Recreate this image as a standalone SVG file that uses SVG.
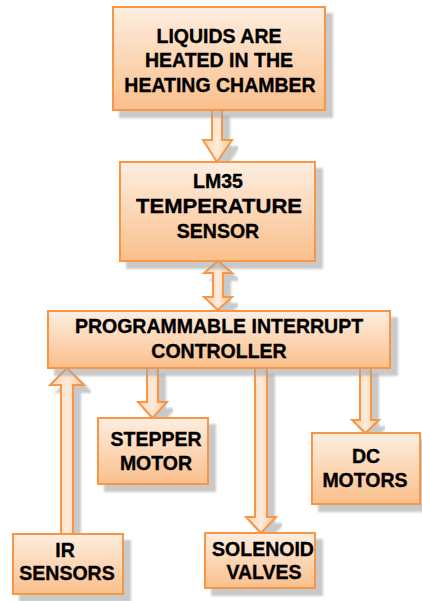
<svg xmlns="http://www.w3.org/2000/svg" width="422" height="601" viewBox="0 0 422 601">
<defs>
<linearGradient id="g" x1="0" y1="0" x2="0" y2="1">
<stop offset="0" stop-color="#fdeee0"/>
<stop offset="1" stop-color="#fabf8b"/>
</linearGradient>
<linearGradient id="ga" x1="0" y1="0" x2="1" y2="0">
<stop offset="0" stop-color="#fcd3ac"/>
<stop offset="0.5" stop-color="#fdebdb"/>
<stop offset="1" stop-color="#fbc794"/>
</linearGradient>
<filter id="sh" x="-10%" y="-10%" width="130%" height="130%">
<feDropShadow dx="7" dy="7" stdDeviation="1.2" flood-color="#a6a6a6" flood-opacity="0.6"/>
</filter>
</defs>
<style>
.box{fill:url(#g);stroke:#f79646;stroke-width:2;filter:url(#sh)}
.arr{fill:url(#ga);stroke:#f79646;stroke-width:2;stroke-linejoin:miter;filter:url(#sh)}
text{font-family:"Liberation Sans",Arial,sans-serif;font-weight:bold;font-size:19.5px;fill:#000;stroke:#000;stroke-width:0.35;text-anchor:middle}
</style>
<g id="connectors">
<path class="arr" d="M212,110 H222 V140 H232 L217,162 L203,140 H212 Z"/>
<path class="arr" d="M218,261 L232,273 H223 V297 H232 L218,310 L204,297 H213 V273 H204 Z"/>
<path class="arr" d="M67,368 L84,385 H73 V534 H61 V385 H50 Z"/>
<path class="arr" d="M147,368 H158 V402 H167 L152.5,418 L138,402 H147 Z"/>
<path class="arr" d="M255,368 H267 V517 H276 L261,533 L246,517 H255 Z"/>
<path class="arr" d="M360,368 H371 V420 H379 L365.5,433 L352,420 H360 Z"/>
</g>
<g id="n1">
<rect class="box" x="113" y="7" width="212" height="103"/>
<text x="219" y="43">LIQUIDS ARE</text>
<text x="219" y="67">HEATED IN THE</text>
<text x="220" y="92">HEATING CHAMBER</text>
</g>
<g id="n2">
<rect class="box" x="120" y="162" width="195" height="99"/>
<text x="218" y="188">LM35</text>
<text x="219" y="213" textLength="166" lengthAdjust="spacingAndGlyphs">TEMPERATURE</text>
<text x="218" y="238">SENSOR</text>
</g>
<g id="n3">
<rect class="box" x="48" y="311" width="342" height="57"/>
<text x="219" y="333">PROGRAMMABLE INTERRUPT</text>
<text x="219" y="358">CONTROLLER</text>
</g>
<g id="n4">
<rect class="box" x="98" y="418" width="110" height="66"/>
<text x="156" y="446">STEPPER</text>
<text x="156" y="470">MOTOR</text>
</g>
<g id="n5">
<rect class="box" x="312" y="433" width="108" height="71"/>
<text x="366" y="463">DC</text>
<text x="365" y="487">MOTORS</text>
</g>
<g id="n6">
<rect class="box" x="13" y="534" width="110" height="60"/>
<text x="65" y="557">IR</text>
<text x="67" y="580">SENSORS</text>
</g>
<g id="n7">
<rect class="box" x="205" y="533" width="110" height="55"/>
<text x="263" y="556">SOLENOID</text>
<text x="264" y="579">VALVES</text>
</g>
</svg>
